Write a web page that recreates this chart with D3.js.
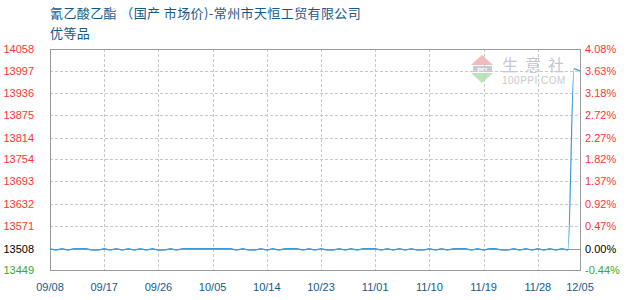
<!DOCTYPE html>
<html>
<head>
<meta charset="utf-8">
<script src="https://cdn.jsdelivr.net/npm/d3@7"></script>
<style>
  body { margin: 0; background: #fff; }
  svg text { font-family: "Liberation Sans", Arial, sans-serif; }
  .title { font-family: "Noto Sans CJK SC", sans-serif; font-size: 13px; letter-spacing: 0.4px; fill: #14598c; }
</style>
</head>
<body>
<svg id="chart" width="630" height="300"></svg>
<script>
// 1: DATA
const startDate = "2025-09-08";
const basePrice = 13508;
// daily price, 09/08 .. 12/05
const prices = [
  13508, 13504, 13508, 13504, 13508, 13508, 13508, 13504, 13504, 13508,
  13504, 13508, 13504, 13508, 13504, 13508, 13504, 13508, 13504, 13504,
  13508, 13504, 13508, 13508, 13508, 13508, 13508, 13508, 13508, 13508,
  13508, 13504, 13508, 13504, 13504, 13508, 13504, 13508, 13504, 13508,
  13508, 13508, 13504, 13508, 13504, 13508, 13504, 13504, 13508, 13504,
  13508, 13504, 13508, 13508, 13508, 13504, 13508, 13504, 13508, 13504,
  13508, 13504, 13504, 13508, 13504, 13508, 13504, 13508, 13508, 13508,
  13504, 13508, 13504, 13508, 13508, 13504, 13504, 13508, 13504, 13508,
  13504, 13508, 13504, 13508, 13504, 13508, 13504, 14003, 13997
];
const xTickLabels = ["09/08", "09/17", "09/26", "10/05", "10/14", "10/23", "11/01", "11/10", "11/19", "11/28", "12/05"];
const yTicks = [14058, 13997, 13936, 13875, 13814, 13754, 13693, 13632, 13571, 13508, 13449];
const pctTicks = ["4.08%", "3.63%", "3.18%", "2.72%", "2.27%", "1.82%", "1.37%", "0.92%", "0.47%", "0.00%", "-0.44%"];
const titleLines = ["氰乙酸乙酯 （国产 市场价)-常州市天恒工贸有限公司", "优等品"];

// 2: LAYOUT
const plot = { left: 50, right: 580, top: 49, bottom: 270 };
const svg = d3.select("#chart");

const parse = d3.timeParse("%Y-%m-%d");
const t0 = parse(startDate);
const data = prices.map((v, i) => ({ date: d3.timeDay.offset(t0, i), value: v }));
const tickDates = xTickLabels.map(s => {
  const [m, d] = s.split("/");
  return parse(`2025-${m}-${d}`);
});

// 3: SCALES
const xScale = d3.scaleTime()
  .domain([t0, data[data.length - 1].date])
  .range([plot.left, plot.right]);

const yScale = d3.scaleLinear()
  .domain([d3.min(yTicks), d3.max(yTicks)])
  .range([plot.bottom, plot.top]);

const tickColor = v => v > basePrice ? "#ff3333" : (v < basePrice ? "#33aa33" : "#000");

// 4: WATERMARK
const wm = svg.append("g").attr("opacity", 0.8);
wm.append("path").attr("d", "M482,55 L493,65 L471,65 Z").attr("fill", "#f5a8a8");
wm.append("rect").attr("x", 473).attr("y", 66).attr("width", 19).attr("height", 6).attr("fill", "#b8bfd0");
wm.append("text").attr("x", 482).attr("y", 71.5).attr("text-anchor", "middle")
  .style("font-size", "6px").style("font-weight", "bold").attr("fill", "#fff").text("PPI");
wm.append("path").attr("d", "M471,73 L493,73 L482,83 Z").attr("fill", "#a8dfa8");
wm.append("text").attr("x", 502).attr("y", 71)
  .style("font-family", "'Noto Sans CJK SC', sans-serif").style("font-size", "16px")
  .style("letter-spacing", "7px").attr("fill", "#b4b8cc").text("生意社");
wm.append("text").attr("x", 502).attr("y", 84)
  .style("font-size", "10px").style("letter-spacing", "0.5px").attr("fill", "#bdbdbd").text("100PPI.COM");

// 5: GRID
svg.append("g").selectAll("line")
  .data(yTicks.filter(v => v !== basePrice && v !== d3.min(yTicks) && v !== d3.max(yTicks)))
  .join("line")
  .attr("x1", plot.left).attr("x2", plot.right)
  .attr("y1", d => Math.round(yScale(d)) + 0.5).attr("y2", d => Math.round(yScale(d)) + 0.5)
  .attr("stroke", "#c8c8c8").attr("stroke-dasharray", "3,2");

svg.append("g").selectAll("line")
  .data(tickDates.slice(1, -1))
  .join("line")
  .attr("x1", d => Math.round(xScale(d)) + 0.5).attr("x2", d => Math.round(xScale(d)) + 0.5)
  .attr("y1", plot.top).attr("y2", plot.bottom)
  .attr("stroke", "#c8c8c8").attr("stroke-dasharray", "3,2");

// base line
svg.append("line")
  .attr("x1", plot.left).attr("x2", plot.right)
  .attr("y1", Math.round(yScale(basePrice)) + 0.5).attr("y2", Math.round(yScale(basePrice)) + 0.5)
  .attr("stroke", "#999");

// frame
svg.append("rect")
  .attr("x", plot.left + 0.5).attr("y", plot.top + 0.5)
  .attr("width", plot.right - plot.left).attr("height", plot.bottom - plot.top)
  .attr("fill", "none").attr("stroke", "#9a9a9a");

// 6: LINE
const line = d3.line()
  .x(d => xScale(d.date))
  .y(d => yScale(d.value))
  .curve(d3.curveMonotoneX);

svg.append("path")
  .datum(data)
  .attr("d", line)
  .attr("fill", "none")
  .attr("stroke", "#3c9ad8")
  .attr("stroke-width", 1.2);

// 7: AXIS LABELS
svg.append("g").selectAll("text")
  .data(yTicks)
  .join("text")
  .attr("x", 34)
  .attr("y", d => yScale(d) + 4)
  .attr("text-anchor", "end")
  .style("font-size", "11px")
  .attr("fill", d => tickColor(d))
  .text(d => d);

svg.append("g").selectAll("text")
  .data(pctTicks)
  .join("text")
  .attr("x", 585)
  .attr("y", (d, i) => yScale(yTicks[i]) + 4)
  .style("font-size", "11px")
  .attr("fill", (d, i) => tickColor(yTicks[i]))
  .text(d => d);

svg.append("g").selectAll("text")
  .data(tickDates)
  .join("text")
  .attr("x", d => xScale(d))
  .attr("y", 291)
  .attr("text-anchor", "middle")
  .style("font-size", "11px")
  .attr("fill", "#14598c")
  .text((d, i) => xTickLabels[i]);

// 8: TITLE
svg.append("g").selectAll("text")
  .data(titleLines)
  .join("text")
  .attr("class", "title")
  .attr("x", 50)
  .attr("y", (d, i) => 18 + i * 20)
  .text(d => d);
</script>
</body>
</html>
